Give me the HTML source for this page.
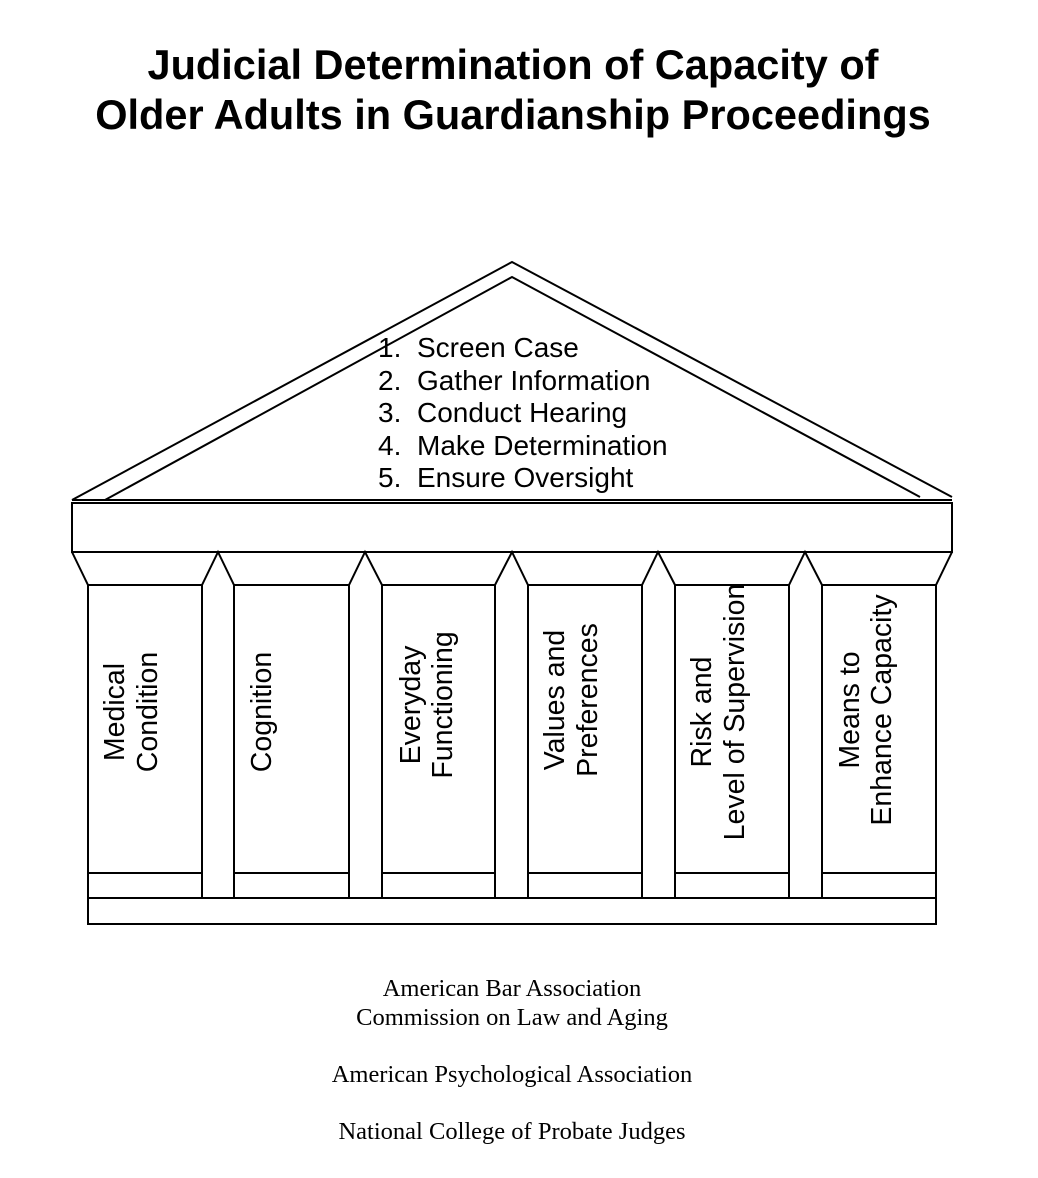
<!DOCTYPE html>
<html><head><meta charset="utf-8"><style>
html,body{margin:0;padding:0;background:#fff;}
svg{display:block;}
</style></head><body>
<svg width="1038" height="1178" viewBox="0 0 1038 1178" xmlns="http://www.w3.org/2000/svg">
<g font-family="Liberation Sans, Arial, sans-serif" font-weight="bold" font-size="41.5" text-anchor="middle" fill="#000">
<text x="513" y="79">Judicial Determination of Capacity of</text>
<text x="513" y="129">Older Adults in Guardianship Proceedings</text>
</g>
<g fill="none" stroke="#000" stroke-width="2">
<polyline points="72,500 512,262 952,497"/>
<polyline points="105,500 512,277 920,497"/>
<line x1="72" y1="500" x2="952" y2="500"/>
<rect x="72" y="503" width="880" height="49"/>
<polyline points="72,552 88,585 202,585 218,552 234,585 349,585 365,552 382,585 495,585 512,552 528,585 642,585 658,552 675,585 789,585 805,552 822,585 936,585 952,552"/>
<line x1="88" y1="585" x2="88" y2="898"/>
<line x1="202" y1="585" x2="202" y2="898"/>
<line x1="234" y1="585" x2="234" y2="898"/>
<line x1="349" y1="585" x2="349" y2="898"/>
<line x1="382" y1="585" x2="382" y2="898"/>
<line x1="495" y1="585" x2="495" y2="898"/>
<line x1="528" y1="585" x2="528" y2="898"/>
<line x1="642" y1="585" x2="642" y2="898"/>
<line x1="675" y1="585" x2="675" y2="898"/>
<line x1="789" y1="585" x2="789" y2="898"/>
<line x1="822" y1="585" x2="822" y2="898"/>
<line x1="936" y1="585" x2="936" y2="898"/>
<line x1="88" y1="873" x2="202" y2="873"/>
<line x1="234" y1="873" x2="349" y2="873"/>
<line x1="382" y1="873" x2="495" y2="873"/>
<line x1="528" y1="873" x2="642" y2="873"/>
<line x1="675" y1="873" x2="789" y2="873"/>
<line x1="822" y1="873" x2="936" y2="873"/>
<rect x="88" y="898" width="848" height="26"/>
</g>
<g font-family="Liberation Sans, Arial, sans-serif" font-size="28" fill="#000">
<text x="378" y="357">1.</text><text x="417" y="357">Screen Case</text>
<text x="378" y="390">2.</text><text x="417" y="390">Gather Information</text>
<text x="378" y="422">3.</text><text x="417" y="422">Conduct Hearing</text>
<text x="378" y="455">4.</text><text x="417" y="455">Make Determination</text>
<text x="378" y="487">5.</text><text x="417" y="487">Ensure Oversight</text>
</g>
<g font-family="Liberation Sans, Arial, sans-serif" font-size="28.5" fill="#000" text-anchor="middle">
<text transform="translate(124,712) rotate(-90)">Medical</text>
<text transform="translate(157,712) rotate(-90)">Condition</text>
<text transform="translate(271,712) rotate(-90)">Cognition</text>
<text transform="translate(420,705) rotate(-90)">Everyday</text>
<text transform="translate(452,705) rotate(-90)">Functioning</text>
<text transform="translate(564,700) rotate(-90)">Values and</text>
<text transform="translate(597,700) rotate(-90)">Preferences</text>
<text transform="translate(711,712) rotate(-90)">Risk and</text>
<text transform="translate(744,712) rotate(-90)">Level of Supervision</text>
<text transform="translate(859,710) rotate(-90)">Means to</text>
<text transform="translate(891,710) rotate(-90)">Enhance Capacity</text>
</g>
<g font-family="Liberation Serif, Times New Roman, serif" font-size="24.5" fill="#000" text-anchor="middle">
<text x="512" y="996">American Bar Association</text>
<text x="512" y="1025">Commission on Law and Aging</text>
<text x="512" y="1082">American Psychological Association</text>
<text x="512" y="1139">National College of Probate Judges</text>
</g>
</svg>
</body></html>
